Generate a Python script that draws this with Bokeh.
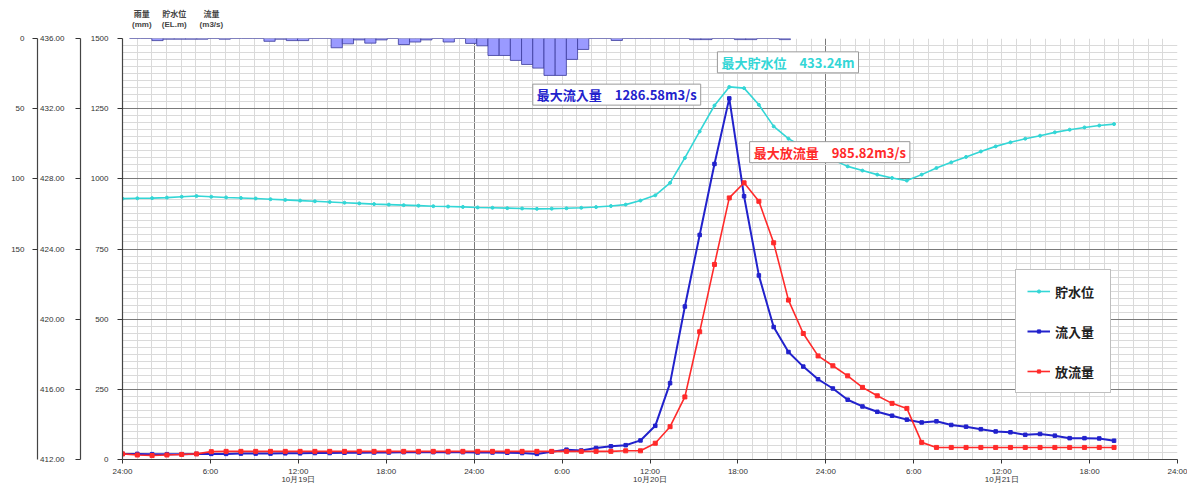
from bokeh.plotting import figure
from bokeh.layouts import column
from bokeh.models import (Range1d, LinearAxis, FixedTicker, Label, Legend, LegendItem,
                          NumeralTickFormatter)
from bokeh.core.properties import value
from bokeh.embed import file_html
from bokeh.resources import INLINE

# ---------------- data ----------------
# hourly records from 10/19 0:00 (index)
record_index = list(range(68))

level = [426.87, 426.89, 426.90, 426.93, 426.98, 427.02, 426.98, 426.94, 426.91, 426.88,
         426.84, 426.80, 426.76, 426.72, 426.68, 426.64, 426.60, 426.56, 426.53, 426.50,
         426.47, 426.44, 426.42, 426.40, 426.37, 426.35, 426.33, 426.31, 426.29, 426.30,
         426.32, 426.35, 426.39, 426.45, 426.53, 426.76, 427.06, 427.77, 429.19, 430.70,
         432.18, 433.24, 433.17, 432.22, 430.99, 430.29, 429.80, 429.38, 429.09, 428.71,
         428.47, 428.24, 428.05, 427.90, 428.24, 428.62, 428.94, 429.25, 429.56, 429.85,
         430.08, 430.29, 430.46, 430.65, 430.80, 430.93, 431.04, 431.12]

inflow = [20, 20, 19, 19, 19, 20, 20, 20, 21, 21,
          21, 22, 22, 23, 23, 24, 24, 25, 25, 26,
          26, 26, 26, 26, 25, 25, 24, 23, 20, 28,
          35, 32, 41, 47, 51, 68, 120, 272, 545, 800,
          1053, 1286.58, 938, 656, 472, 383, 331, 286, 253, 213,
          189, 170, 156, 142, 132, 136, 123, 117, 108, 100,
          97, 88, 91, 85, 76, 76, 75, 67]

outflow = [20, 16, 14, 16, 18, 20, 28, 29, 29, 29,
           29, 29, 29, 29, 29, 29, 29, 29, 29, 29,
           29, 29, 29, 29, 29, 29, 29, 29, 29, 29,
           29, 29, 29, 29, 31, 31, 58, 117, 223, 455,
           695, 932, 985.82, 920, 772, 568, 449, 369, 334, 298,
           257, 227, 200, 182, 61, 43, 43, 43, 43, 43,
           43, 43, 43, 43, 43, 43, 43, 43]

rain = [0, 0, 1.5, 0.5, 0.5, 0.5, 0.5, 0, 0.5, 0,
        0, 0, 2.0, 0.5, 1.5, 1.5, 0, 0, 6.6, 3.8,
        1.0, 3.3, 1.0, 0, 4.3, 2.5, 1.0, 0, 2.5, 0,
        3.5, 5.2, 12.1, 12.1, 15.6, 18.5, 21.1, 26.3, 26.3, 14.9,
        7.8, 0, 0, 1.4, 0, 0, 0, 0, 0, 0,
        0.8, 0.8, 0, 0, 0.8, 0.8, 0, 0, 0.8]

flow_ticks = [0, 250, 500, 750, 1000, 1250, 1500]
level_ticks = [412, 416, 420, 424, 428, 432, 436]
rain_ticks = [0, 50, 100, 150]
time_ticks = [0, 6, 12, 18, 24, 30, 36, 42, 48, 54, 60, 66, 72]
time_labels = ["24:00", "6:00", "12:00", "18:00", "24:00", "6:00", "12:00", "18:00",
               "24:00", "6:00", "12:00", "18:00", "24:00"]
day_centers = [12, 36, 60]
day_labels = ["10月19日", "10月20日", "10月21日"]

series_names = ["貯水位", "流入量", "放流量"]
ann_texts = ["最大貯水位\u3000433.24m", "最大流入量\u30001286.58m3/s", "最大放流量\u3000985.82m3/s"]
header_names = ["雨量", "貯水位", "流量"]
header_units = ["(mm)", "(EL.m)", "(m3/s)"]

# ---------------- layout constants ----------------
LINE_STEP = 1.010     # plotted spacing of records on the hour axis
RAIN_X0 = 0.86        # centre of first rain slot (hours)
RAIN_STEP = 0.7645    # rain slot width (hours)
W = 1187
HEAD_H = 30

CYAN = "#33d6d6"
BLUE = "#2222cc"
RED = "#ff2a2a"
JP = "Noto Sans CJK JP"
NUM = "Liberation Sans"

x_line = [i * LINE_STEP for i in record_index]
rain_x = [RAIN_X0 + k * RAIN_STEP for k in range(len(rain))]

# ---------- header strip with the titles of the three left axes ----------
head = figure(width=W, height=HEAD_H, x_range=Range1d(0, W), y_range=Range1d(HEAD_H, 0),
              output_backend="svg", toolbar_location=None, x_axis_type=None, y_axis_type=None,
              min_border=0)
head.outline_line_color = None
head.grid.visible = False
head_x = [21.7, 58.3, 100.0]
head.text(x=head_x, y=[13.3] * 3, text=header_names, text_font=value(JP), text_font_size="8px",
          text_font_style="bold", text_color="#444444", text_align="center", text_baseline="middle")
head.text(x=head_x, y=[24.3] * 3, text=header_units, text_font=value(NUM), text_font_size="8px",
          text_font_style="bold", text_color="#444444", text_align="center", text_baseline="middle")

# ---------- main chart ----------
p = figure(width=W, height=488 - HEAD_H, x_range=Range1d(0, 72), y_range=Range1d(0, 1500),
           output_backend="svg", toolbar_location=None,
           min_border_left=122, min_border_right=10, min_border_top=8, min_border_bottom=29)
p.extra_y_ranges = {"level": Range1d(412, 436), "rain": Range1d(300, 0)}
p.outline_line_color = None
p.background_fill_color = "white"
p.border_fill_color = "white"

# grids
p.xgrid.ticker = FixedTicker(ticks=[0, 24, 48, 72], minor_ticks=list(range(0, 73)))
p.xgrid.grid_line_color = "#7a7a7a"
p.xgrid.minor_grid_line_color = "#dadada"
p.ygrid.ticker = FixedTicker(ticks=flow_ticks, minor_ticks=list(range(0, 1501, 25)))
p.ygrid.grid_line_color = "#7a7a7a"
p.ygrid.minor_grid_line_color = "#dadada"


def style_axis(ax, standoff, tick_out=5):
    ax.major_tick_out = tick_out
    ax.major_tick_in = 0
    ax.minor_tick_out = 0
    ax.minor_tick_in = 0
    ax.major_label_standoff = standoff
    ax.major_label_text_font = NUM
    ax.major_label_text_font_size = "8px"
    ax.major_label_text_color = "#333333"
    ax.axis_line_color = "#444444"
    ax.axis_line_width = 1.2
    ax.major_tick_line_color = "#333333"


# x axis (time of day)
xa = p.xaxis[0]
xa.ticker = FixedTicker(ticks=time_ticks)
xa.major_label_overrides = {t: lab for t, lab in zip(time_ticks, time_labels)}
style_axis(xa, 3, 4)

# second x axis (dates)
da = LinearAxis(ticker=FixedTicker(ticks=day_centers),
                major_label_overrides={t: lab for t, lab in zip(day_centers, day_labels)})
style_axis(da, -4, 0)
da.axis_line_color = None
da.major_tick_line_color = None
p.add_layout(da, "below")

# flow axis (innermost left)
fa = p.yaxis[0]
fa.ticker = FixedTicker(ticks=flow_ticks)
style_axis(fa, 9)
fa.axis_label = " "
fa.axis_label_text_font_size = "1px"
fa.axis_label_standoff = 3

la = LinearAxis(y_range_name="level", ticker=FixedTicker(ticks=level_ticks),
                formatter=NumeralTickFormatter(format="0.00"))
style_axis(la, 11, 5)
p.add_layout(la, "left")

ra = LinearAxis(y_range_name="rain", ticker=FixedTicker(ticks=rain_ticks))
style_axis(ra, 8)
p.add_layout(ra, "left")

# rain bars
p.vbar(x=rain_x, width=RAIN_STEP, top=[0] * len(rain), bottom=rain, y_range_name="rain",
       fill_color="#9a9aff", line_color="#3a3a9a", line_width=0.8)

# series
r_lv_l = p.line(x_line, level, y_range_name="level", line_color=CYAN, line_width=1.6)
r_lv_m = p.scatter(x_line, level, y_range_name="level", marker="circle", size=3,
                   fill_color=CYAN, line_color=CYAN)
r_in_l = p.line(x_line, inflow, line_color=BLUE, line_width=2)
r_in_m = p.scatter(x_line, inflow, marker="square", size=3.5, fill_color=BLUE, line_color=BLUE)
r_out_l = p.line(x_line, outflow, line_color=RED, line_width=1.6)
r_out_m = p.scatter(x_line, outflow, marker="square", size=4, fill_color=RED, line_color=RED)

legend = Legend(items=[LegendItem(label=series_names[0], renderers=[r_lv_l, r_lv_m]),
                       LegendItem(label=series_names[1], renderers=[r_in_l, r_in_m]),
                       LegendItem(label=series_names[2], renderers=[r_out_l, r_out_m])],
                location=(893, 66))
legend.border_line_color = "#808080"
legend.background_fill_color = "white"
legend.background_fill_alpha = 1
legend.label_text_font = JP
legend.label_text_font_style = "bold"
legend.label_text_font_size = "13px"
legend.label_text_color = "#222222"
legend.glyph_width = 23
legend.glyph_height = 8
legend.label_height = 20
legend.label_width = 44
legend.label_standoff = 5
legend.spacing = 20
legend.padding = 11
legend.margin = 0
p.add_layout(legend, "center")

# max annotations
ann_pos = [(40.6, 1415, CYAN), (28.0, 1300, BLUE), (42.8, 1095, RED)]
for txt, (ax_, ay_, col) in zip(ann_texts, ann_pos):
    p.add_layout(Label(x=ax_, y=ay_, text=txt, text_color=col, text_font=JP,
                       text_font_style="bold", text_font_size="13px",
                       text_align="left", text_baseline="middle",
                       background_fill_color="white", border_line_color="#999999",
                       padding=(4, 1)))

open("out.html", "w").write(file_html(column(head, p, spacing=0), INLINE))
